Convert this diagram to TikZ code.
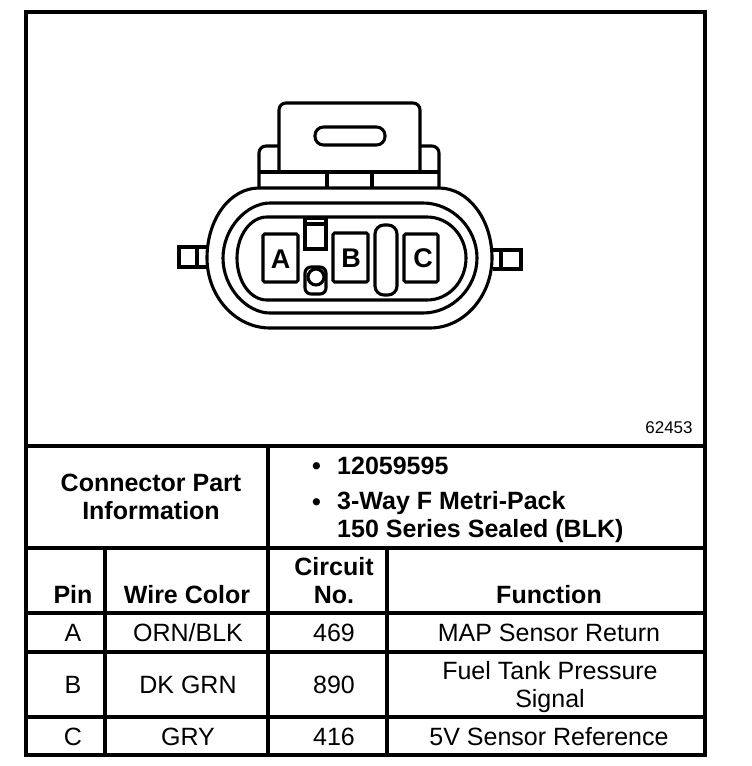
\documentclass[tikz,border=0pt]{standalone}
\usepackage{fontspec}
\setmainfont{Liberation Sans}
\usetikzlibrary{positioning}
\tikzset{
	part/.style={line width=3.1pt},
	rule/.style={line width=3.4pt},
	cell/.style={inner sep=0pt,font=\fontsize{25}{28}\selectfont,align=center,anchor=base},
	head/.style={cell,font=\fontsize{25}{28}\selectfont\bfseries},
	pinbox/.style={part,rounded corners=1.5pt},
	pinname/.style={inner sep=0pt,font=\fontsize{27}{27}\selectfont\bfseries}
}

\begin{document}
\begin{tikzpicture}[x=1pt,y=-1pt]
	\useasboundingbox (0,0) rectangle (752,766);

	\draw [rule] (26,12) rectangle (705,755);
	\draw [rule] (26,446) to (705,446);
	\draw [rule] (26,548) to (705,548);
	\draw [rule] (26,613) to (705,613);
	\draw [rule] (26,652) to (705,652);
	\draw [rule] (26,717) to (705,717);
	\draw [rule] (268,446) to (268,755);
	\draw [rule] (105,548) to (105,755);
	\draw [rule] (387,548) to (387,755);

	\draw [part,rounded corners=7pt] (279,172) -- (279,103) -- (420,103) -- (420,172);
	\draw [part,rounded corners=8.5pt] (315,127) rectangle (385,145);
	\draw [part,rounded corners=7pt] (279,146) -- (259,146) -- (259,188);
	\draw [part,rounded corners=7pt] (420,146) -- (439,146) -- (439,188);
	\draw [part] (259,172) to (439,172);
	\draw [part] (327,172) to (327,188);
	\draw [part] (372,172) to (372,188);

	\draw [part] (259,188) -- (439,188) .. controls (468,188) and (492,219) .. (492,258)
		.. controls (492,296) and (464,328) .. (430,328) -- (270,328)
		.. controls (235,328) and (207,296) .. (207,258)
		.. controls (207,219) and (230,188) .. (259,188) -- cycle;
	\draw [part] (270,203) -- (423,203) .. controls (452,203) and (477,228) .. (477,258)
		.. controls (477,288) and (452,313) .. (423,313) -- (270,313)
		.. controls (247,313) and (223,288) .. (223,258)
		.. controls (223,228) and (247,203) .. (270,203) -- cycle;
	\draw [part] (267,217) -- (427,217) .. controls (449,217) and (466,236) .. (466,258)
		.. controls (466,281) and (449,300) .. (427,300) -- (267,300)
		.. controls (250,300) and (237,281) .. (237,258)
		.. controls (237,236) and (250,217) .. (267,217) -- cycle;

	\draw [part] (207,247) -- (179,247) -- (179,267) -- (207,267);
	\draw [part] (197,247) to (197,267);
	\draw [part] (493,250) -- (521,250) -- (521,269) -- (493,269);
	\draw [part] (501,250) to (501,269);

	\draw [pinbox] (263,234) rectangle (298,282);
	\draw [pinbox] (333,233) rectangle (368,282);
	\draw [pinbox] (404,234) rectangle (438,282);
	\node [pinname] (nameA) at (280.5,259) {A};
	\node [pinname] (nameB) at (351,258) {B};
	\node [pinname] (nameC) at (423,258) {C};

	\draw [part,rounded corners=9pt] (375,225) rectangle (397,295);
	\draw [part] (305,218) rectangle (326,249);
	\draw [part] (305,224) to (326,224);
	\draw [part,rounded corners=6pt] (305,267) rectangle (326,294);
	\draw [part] (316,277) circle (8);

	\node [inner sep=0pt,font=\fontsize{17}{17}\selectfont] (partno) at (669,428) {62453};

	\node [head] (info) at (151,519) {Connector Part\\Information};
	\node [head,anchor=base west] (bulleta) at (312,474) {•};
	\node [head,anchor=base west] (numberinfo) at (337,474) {12059595};
	\node [head,anchor=base west] (bulletb) at (312,510) {•};
	\node [head,align=left,anchor=base west] (typeinfo) at (337,537) {3-Way F Metri-Pack\\150 Series Sealed (BLK)};

	\node [head] (pinhead) at (73,603) {Pin};
	\node [head] (wirehead) at (187,603) {Wire Color};
	\node [head] (circuithead) at (334,603) {Circuit\\No.};
	\node [head] (functionhead) at (549,603) {Function};

	\node [cell] (pinA) at (73,641) {A};
	\node [cell] (wireA) at (188,641) {ORN/BLK};
	\node [cell] (circuitA) at (334,641) {469};
	\node [cell] (functionA) at (549,641) {MAP Sensor Return};

	\node [cell] (pinB) at (73,693) {B};
	\node [cell] (wireB) at (188,693) {DK GRN};
	\node [cell] (circuitB) at (334,693) {890};
	\node [cell] (functionB) at (550,707) {Fuel Tank Pressure\\Signal};

	\node [cell] (pinC) at (73,745) {C};
	\node [cell] (wireC) at (188,745) {GRY};
	\node [cell] (circuitC) at (334,745) {416};
	\node [cell] (functionC) at (549,745) {5V Sensor Reference};
\end{tikzpicture}
\end{document}
